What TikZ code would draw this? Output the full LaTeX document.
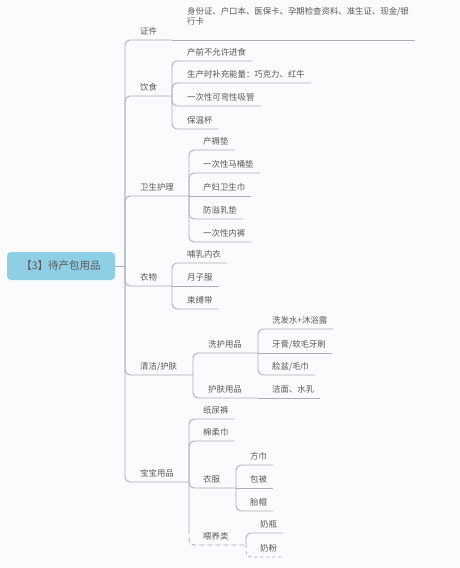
\documentclass[tikz,border=0pt]{standalone}
\usepackage{fontspec}
\setmainfont{Noto Sans CJK SC}
\definecolor{paper}{RGB}{249,251,252}
\definecolor{linegray}{RGB}{170,175,180}
\definecolor{textgray}{RGB}{88,88,88}
\definecolor{rootblue}{RGB}{143,207,230}
\tikzset{
  rootbox/.style={fill=rootblue, rounded corners=4pt, minimum width=108pt, minimum height=28pt,
    font=\fontsize{10.5}{12}\selectfont, text=textgray},
  topic/.style={anchor=south west, inner xsep=6pt, inner ysep=4pt, text height=6.5pt, text depth=1.5pt,
    font=\fontsize{8.4}{10}\selectfont, text=textgray},
  branch/.style={draw=linegray, line width=0.9pt, rounded corners=5pt},
  faded branch/.style={branch, dash pattern=on 52pt off 3pt on 5pt off 3pt on 5pt off 3pt on 5pt off 3pt
    on 5pt off 3pt on 5pt off 3pt on 5pt off 3pt on 5pt off 3pt on 5pt off 3pt on 5pt off 3pt},
}
\begin{document}
\begin{tikzpicture}[x=1pt, y=-1pt]
  \fill[paper] (0,0) rectangle (460,568);

  % Root
  \node[rootbox] (root) at (61,266) {【3】待产包用品};
  \coordinate (root-j) at (125,266);
  \draw[branch] (root.east) -- (root-j);

  % First level
  \node[topic] (zhengjian) at (134,40) {证件};
  \coordinate (zhengjian-j) at (172,40);
  \node[topic] (yinshi) at (134,96) {饮食};
  \coordinate (yinshi-j) at (172,96);
  \node[topic] (weisheng) at (134,196) {卫生护理};
  \coordinate (weisheng-j) at (189,196);
  \node[topic] (yiwu) at (134,286) {衣物};
  \coordinate (yiwu-j) at (172,286);
  \node[topic] (qingjie) at (134,375) {清洁/护肤};
  \coordinate (qingjie-j) at (193,375);
  \node[topic] (baobao) at (134,482) {宝宝用品};
  \coordinate (baobao-j) at (189,482);

  \draw[branch] (root-j) |- (zhengjian-j);
  \draw[branch] (root-j) |- (yinshi-j);
  \draw[branch] (root-j) |- (weisheng-j);
  \draw[branch] (root-j) |- (yiwu-j);
  \draw[branch] (root-j) |- (qingjie-j);
  \draw[branch] (root-j) |- (baobao-j);

  % Zhengjian
  \node[topic, align=left, text depth=11.5pt] (zhengjian-1) at (181,40)
    {身份证、户口本、医保卡、孕期检查资料、准生证、现金/银\\行卡};
  \draw[branch] (zhengjian-j) -- (zhengjian-1.south east);

  % Yinshi
  \node[topic] (yinshi-1) at (181,61) {产前不允许进食};
  \node[topic] (yinshi-2) at (181,83) {生产时补充能量：巧克力、红牛};
  \node[topic] (yinshi-3) at (181,106) {一次性可弯性吸管};
  \node[topic] (yinshi-4) at (181,129) {保温杯};
  \draw[branch] (yinshi-j) |- (yinshi-1.south east);
  \draw[branch] (yinshi-j) |- (yinshi-2.south east);
  \draw[branch] (yinshi-j) |- (yinshi-3.south east);
  \draw[branch] (yinshi-j) |- (yinshi-4.south east);

  % Weisheng
  \node[topic] (weisheng-1) at (197,150) {产褥垫};
  \node[topic] (weisheng-2) at (197,173) {一次性马桶垫};
  \node[topic] (weisheng-3) at (197,196) {产妇卫生巾};
  \node[topic] (weisheng-4) at (197,219) {防溢乳垫};
  \node[topic] (weisheng-5) at (197,242) {一次性内裤};
  \draw[branch] (weisheng-j) |- (weisheng-1.south east);
  \draw[branch] (weisheng-j) |- (weisheng-2.south east);
  \draw[branch] (weisheng-j) -- (weisheng-3.south east);
  \draw[branch] (weisheng-j) |- (weisheng-4.south east);
  \draw[branch] (weisheng-j) |- (weisheng-5.south east);

  % Yiwu
  \node[topic] (yiwu-1) at (181,263) {哺乳内衣};
  \node[topic] (yiwu-2) at (181,286) {月子服};
  \node[topic] (yiwu-3) at (181,309) {束缚带};
  \draw[branch] (yiwu-j) |- (yiwu-1.south east);
  \draw[branch] (yiwu-j) -- (yiwu-2.south east);
  \draw[branch] (yiwu-j) |- (yiwu-3.south east);

  % Qingjie
  \node[topic] (xihu) at (202,353) {洗护用品};
  \coordinate (xihu-j) at (258,353);
  \node[topic] (hufu) at (202,398) {护肤用品};
  \coordinate (hufu-j) at (258,398);
  \draw[branch] (qingjie-j) |- (xihu-j);
  \draw[branch] (qingjie-j) |- (hufu-j);

  \node[topic] (xihu-1) at (266,329) {洗发水+沐浴露};
  \node[topic] (xihu-2) at (266,353) {牙膏/软毛牙刷};
  \node[topic] (xihu-3) at (266,375) {脸盆/毛巾};
  \draw[branch] (xihu-j) |- (xihu-1.south east);
  \draw[branch] (xihu-j) -- (xihu-2.south east);
  \draw[branch] (xihu-j) |- (xihu-3.south east);

  \node[topic] (hufu-1) at (266,398) {洁面、水乳};
  \draw[branch] (hufu-j) -- (hufu-1.south east);

  % Baobao
  \node[topic] (baobao-1) at (197,419) {纸尿裤};
  \node[topic] (baobao-2) at (197,441) {棉柔巾};
  \node[topic] (yifu) at (197,488) {衣服};
  \coordinate (yifu-j) at (236,488);
  \node[topic] (weiyang) at (197,545) {喂养类};
  \coordinate (weiyang-j) at (246,545);
  \draw[branch] (baobao-j) |- (baobao-1.south east);
  \draw[branch] (baobao-j) |- (baobao-2.south east);
  \draw[branch] (baobao-j) |- (yifu-j);
  \draw[faded branch] (baobao-j) |- (weiyang-j);

  \node[topic] (yifu-1) at (244,465) {方巾};
  \node[topic] (yifu-2) at (244,488) {包被};
  \node[topic] (yifu-3) at (244,511) {胎帽};
  \draw[branch] (yifu-j) |- (yifu-1.south east);
  \draw[branch] (yifu-j) -- (yifu-2.south east);
  \draw[branch] (yifu-j) |- (yifu-3.south east);

  \node[topic] (weiyang-1) at (254,533) {奶瓶};
  \node[topic] (weiyang-2) at (254,557) {奶粉};
  \draw[branch] (weiyang-j) |- (weiyang-1.south east);
  \draw[branch, dashed] (weiyang-j) |- (weiyang-2.south east);
\end{tikzpicture}
\end{document}
